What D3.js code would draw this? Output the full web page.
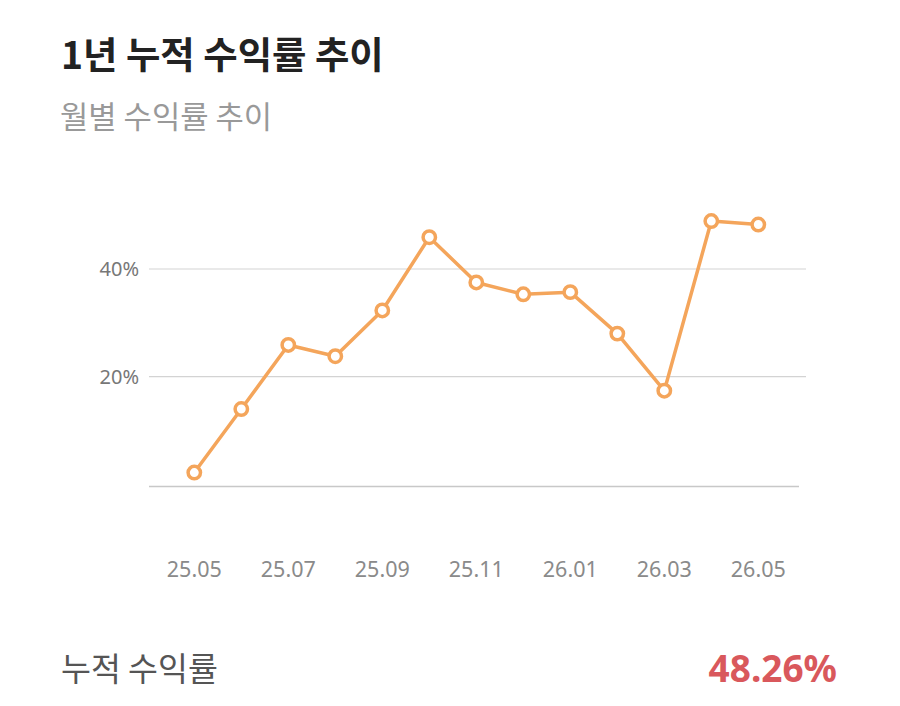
<!DOCTYPE html>
<html>
<head>
<meta charset="utf-8">
<script src="https://cdn.jsdelivr.net/npm/d3@7"></script>
<style>
html,body{margin:0;padding:0;background:#fff;}
svg{display:block;}
</style>
</head>
<body>
<svg id="chart" width="900" height="706"></svg>
<script>
const months = ["25.05","25.06","25.07","25.08","25.09","25.10","25.11","25.12","26.01","26.02","26.03","26.04","26.05"];
const returns = [2.2, 14.0, 25.9, 23.8, 32.3, 45.9, 37.5, 35.3, 35.7, 28.0, 17.4, 48.9, 48.26];
const yTicks = [20, 40];
const xTickLabels = ["25.05","25.07","25.09","25.11","26.01","26.03","26.05"];
const title = "1년 누적 수익률 추이";
const subtitle = "월별 수익률 추이";
const footerLabel = "누적 수익률";
const footerValue = "48.26%";

const svg = d3.select("#chart");
const cjk = "'Noto Sans CJK KR','Noto Sans',sans-serif";
const latin = "'Noto Sans','Open Sans',sans-serif";

const x = d3.scalePoint().domain(months).range([194.3, 758.3]);
const y = d3.scaleLinear().domain([0, 40]).range([484.4, 269]);
const yMin = -0.4;

svg.append("text").attr("x", 61).attr("y", 69)
  .attr("font-family", cjk).attr("font-weight", 700).attr("font-size", 37.4)
  .attr("fill", "#222").text(title);
svg.append("text").attr("x", 60).attr("y", 127.5)
  .attr("font-family", cjk).attr("font-weight", 400).attr("font-size", 30.8)
  .attr("fill", "#999").text(subtitle);

// grid
const grid = svg.append("g");
grid.selectAll("line").data(yTicks).join("line")
  .attr("x1", 149).attr("x2", 806)
  .attr("y1", d => y(d)).attr("y2", d => y(d))
  .attr("stroke", "#d3d3d3").attr("stroke-width", 1.2);
grid.selectAll("text").data(yTicks).join("text")
  .attr("x", 139).attr("y", d => y(d) + 7)
  .attr("text-anchor", "end")
  .attr("font-family", latin).attr("font-size", 20)
  .attr("fill", "#777").text(d => d + "%");

// baseline
svg.append("line").attr("x1", 149).attr("x2", 799)
  .attr("y1", y(yMin)).attr("y2", y(yMin))
  .attr("stroke", "#c8c8c8").attr("stroke-width", 1.5);

// x labels
svg.append("g").selectAll("text").data(xTickLabels).join("text")
  .attr("x", d => x(d)).attr("y", 576.5)
  .attr("text-anchor", "middle")
  .attr("font-family", latin).attr("font-size", 21.5)
  .attr("fill", "#8a8a8a").text(d => d);

const color = "#F4A55B";
const data = months.map((m, i) => ({m, v: returns[i]}));
svg.append("path").datum(data)
  .attr("d", d3.line().x(d => x(d.m)).y(d => y(d.v)))
  .attr("fill", "none").attr("stroke", color).attr("stroke-width", 3.5)
  .attr("stroke-linejoin", "round");
svg.append("g").selectAll("circle").data(data).join("circle")
  .attr("cx", d => x(d.m)).attr("cy", d => y(d.v)).attr("r", 6.2)
  .attr("fill", "#fff").attr("stroke", color).attr("stroke-width", 3.5);

// footer
svg.append("text").attr("x", 61).attr("y", 680.5)
  .attr("font-family", cjk).attr("font-size", 32.5)
  .attr("fill", "#555").text(footerLabel);
svg.append("text").attr("x", 837).attr("y", 681.5)
  .attr("text-anchor", "end")
  .attr("font-family", latin).attr("font-weight", 700).attr("font-size", 37)
  .attr("fill", "#D9585C").text(footerValue);
</script>
</body>
</html>
